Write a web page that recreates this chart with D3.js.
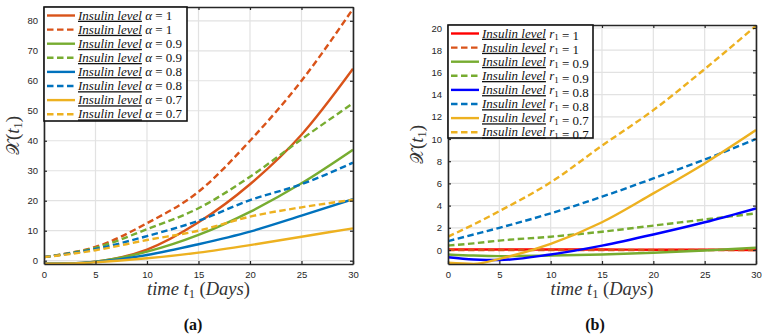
<!DOCTYPE html>
<meta charset="utf-8">
<style>
body { margin: 0; background: #fff; }
.tick text { font-family: "Liberation Sans", Arial, sans-serif; font-size: 9.5px; fill: #262626; }
.grid line { stroke: #e2e2e2; stroke-width: 1.2; }
</style>
<svg width="770" height="335"></svg>
<script src="https://d3js.org/d3.v7.min.js"></script>
<script>

var days = [0, 2.5, 5, 10, 15, 20, 25, 30];
var xTicks = [0, 5, 10, 15, 20, 25, 30];

// panel (a): alpha levels, solid / dashed pairs
var alphaLabels = ["1", "1", "0.9", "0.9", "0.8", "0.8", "0.7", "0.7"];
var a_orangeSolid  = [-1, -0.9, -0.3, 3.7, 12.8, 25.5, 42, 64];
var a_orangeDash   = [1.2, 2.6, 4.6, 12.5, 23, 40, 60, 84];
var a_greenSolid   = [-1, -0.9, -0.3, 3.0, 8.6, 16.3, 25.8, 37];
var a_greenDash    = [1.2, 2.5, 4.3, 10.5, 17.5, 28, 40.5, 52.5];
var a_blueSolid    = [-1, -0.9, -0.4, 1.9, 5.5, 9.7, 15, 20.5];
var a_blueDash     = [1.2, 2.4, 3.9, 8.2, 13.3, 20.2, 25.5, 32.7];
var a_yellowSolid  = [-1, -0.9, -0.5, 0.8, 2.7, 5.2, 8, 10.8];
var a_yellowDash   = [1.2, 2.2, 3.5, 6.9, 10, 14.7, 17.8, 20.3];
var aTicks = [0, 10, 20, 30, 40, 50, 60, 70, 80];

// panel (b): r1 levels
var rLabels = ["1", "1", "0.9", "0.9", "0.8", "0.8", "0.7", "0.7"];
var b_redSolid     = [0.05, 0.05, 0.05, 0.05, 0.04, 0.03, 0.02, 0.0];
var b_orangeDash   = [0, 0, 0, 0, 0, 0, 0, 0];
var b_greenSolid   = [-0.4, -0.5, -0.55, -0.5, -0.4, -0.25, -0.05, 0.2];
var b_greenDash    = [0.4, 0.6, 0.85, 1.2, 1.65, 2.2, 2.75, 3.3];
var b_blueSolid    = [-0.65, -0.85, -0.9, -0.4, 0.4, 1.4, 2.5, 3.75];
var b_blueDash     = [0.8, 1.4, 2.0, 3.3, 4.8, 6.45, 8.15, 10.0];
var b_yellowSolid  = [-1.15, -1.25, -0.8, 0.55, 2.5, 5.1, 7.8, 10.8];
var b_yellowDash   = [1.2, 2.3, 3.5, 6.1, 9.4, 12.6, 16.3, 20.2];
var bTicks = [0, 2, 4, 6, 8, 10, 12, 14, 16, 18, 20];

var serif = "'DejaVu Serif', 'Liberation Serif', serif";
var times = "'Liberation Serif', serif";
var svg = d3.select("svg");

function drawPanel(p) {
  var x = d3.scaleLinear().domain([0, 30]).range([p.left, p.right]),
      y = d3.scaleLinear().domain(p.ydom).range([p.bottom, p.top]);

  var g = svg.append("g");

  // grid
  var grid = g.append("g").attr("class", "grid");
  grid.selectAll(".gx").data(xTicks).enter().append("line")
      .attr("x1", d => x(d)).attr("x2", d => x(d))
      .attr("y1", p.top).attr("y2", p.bottom);
  grid.selectAll(".gy").data(p.yticks).enter().append("line")
      .attr("x1", p.left).attr("x2", p.right)
      .attr("y1", d => y(d)).attr("y2", d => y(d));

  // lines
  var clipId = "clip" + p.name;
  svg.append("clipPath").attr("id", clipId).append("rect")
      .attr("x", p.left).attr("y", p.top)
      .attr("width", p.right - p.left).attr("height", p.bottom - p.top);

  var line = d3.line()
      .x((d, i) => x(days[i]))
      .y(d => y(d))
      .curve(d3.curveMonotoneX);

  g.append("g").attr("clip-path", "url(#" + clipId + ")")
    .selectAll("path").data(p.series).enter().append("path")
      .attr("d", d => line(d.values))
      .attr("fill", "none")
      .attr("stroke", d => d.color)
      .attr("stroke-width", 2.4)
      .attr("stroke-dasharray", d => d.dash ? "6.5,3.5" : null);

  // axes (box with mirrored ticks)
  var axCol = "#262626";
  g.append("g").attr("transform", "translate(0," + p.bottom + ")")
      .call(d3.axisBottom(x).tickValues(xTicks).tickSizeInner(-3).tickSizeOuter(0).tickPadding(7))
      .call(a => a.select(".domain").attr("stroke", axCol).attr("stroke-width", 1.6));
  g.append("g").attr("transform", "translate(0," + p.top + ")")
      .call(d3.axisTop(x).tickValues(xTicks).tickSizeInner(-3).tickSizeOuter(0).tickFormat(""))
      .call(a => a.select(".domain").attr("stroke", axCol).attr("stroke-width", 1.6));
  g.append("g").attr("transform", "translate(" + p.left + ",0)")
      .call(d3.axisLeft(y).tickValues(p.yticks).tickSizeInner(-3).tickSizeOuter(0).tickPadding(6))
      .call(a => a.select(".domain").attr("stroke", axCol).attr("stroke-width", 1.6));
  g.append("g").attr("transform", "translate(" + p.right + ",0)")
      .call(d3.axisRight(y).tickValues(p.yticks).tickSizeInner(-3).tickSizeOuter(0).tickFormat(""))
      .call(a => a.select(".domain").attr("stroke", axCol).attr("stroke-width", 1.6));
  g.selectAll(".tick line").attr("stroke", axCol).attr("stroke-width", 1.2);

  // axis labels
  var xl = g.append("text").attr("font-family", times)
      .attr("x", (p.left + p.right) / 2).attr("y", p.bottom + 31)
      .attr("text-anchor", "middle").attr("font-size", 18.5)
      .attr("fill", "#333");
  xl.append("tspan").attr("font-style", "italic").text("time t");
  xl.append("tspan").attr("font-size", 12.5).attr("dy", 3).text("1");
  xl.append("tspan").attr("dy", -3).text(" (");
  xl.append("tspan").attr("font-style", "italic").text("Days");
  xl.append("tspan").text(")");

  var yl = g.append("text").attr("font-family", serif)
      .attr("transform", "translate(" + p.ylabelX + "," + ((p.top + p.bottom) / 2) + ") rotate(-90)")
      .attr("text-anchor", "middle").attr("font-size", 17).attr("fill", "#333");
  yl.append("tspan").text("\u{1D4B3}");
  yl.append("tspan").attr("font-family", times).attr("font-size", 19).text("(");
  yl.append("tspan").attr("font-family", times).attr("font-size", 19).attr("font-style", "italic").text("t");
  yl.append("tspan").attr("font-family", times).attr("font-size", 12.5).attr("dy", 3).text("1");
  yl.append("tspan").attr("font-family", times).attr("font-size", 19).attr("dy", -3).text(")");

  // caption
  g.append("text").attr("font-family", times)
      .attr("x", p.captionX).attr("y", 330)
      .attr("text-anchor", "middle").attr("font-size", 16).attr("font-weight", "bold")
      .attr("fill", "#111").text(p.caption);

  // legend
  var lg = g.append("g");
  lg.append("rect")
      .attr("x", p.left).attr("y", p.top)
      .attr("width", p.legW).attr("height", p.legH)
      .attr("fill", "#fff").attr("stroke", "#111").attr("stroke-width", 1.6);
  var rows = lg.selectAll(".row").data(p.series).enter().append("g")
      .attr("transform", (d, i) => "translate(" + p.left + "," + (p.top + 8.5 + i * 14.1) + ")");
  rows.append("line")
      .attr("x1", 3).attr("x2", 31).attr("y1", 0).attr("y2", 0)
      .attr("stroke", d => d.color).attr("stroke-width", 2.4)
      .attr("stroke-dasharray", d => d.dash ? "6.5,3.5" : null);
  var t = rows.append("text").attr("font-family", times)
      .attr("x", 34).attr("y", 4.2).attr("font-size", 13).attr("fill", "#111");
  t.append("tspan").attr("font-style", "italic")
      .attr("text-decoration", "underline").text("Insulin level");
  if (p.sym === "alpha") {
    t.append("tspan").attr("font-style", "italic").text(" \u03B1");
  } else {
    t.append("tspan").attr("font-style", "italic").text(" r");
    t.append("tspan").attr("font-size", 9).attr("dy", 2.5).text("1");
    t.append("tspan").attr("dy", -2.5).text("");
  }
  t.append("tspan").text((d, i) => " = " + p.labels[i]);
}

drawPanel({
  name: "a", left: 44, right: 353, top: 7, bottom: 264,
  ydom: [-1.1, 84.6], yticks: aTicks, ylabelX: 19,
  caption: "(a)", captionX: 193, legW: 143, legH: 114,
  sym: "alpha", labels: alphaLabels,
  series: [
    {values: a_orangeSolid, color: "#D95319", dash: false},
    {values: a_orangeDash,  color: "#D95319", dash: true},
    {values: a_greenSolid,  color: "#77AC30", dash: false},
    {values: a_greenDash,   color: "#77AC30", dash: true},
    {values: a_blueSolid,   color: "#0072BD", dash: false},
    {values: a_blueDash,    color: "#0072BD", dash: true},
    {values: a_yellowSolid, color: "#EDB120", dash: false},
    {values: a_yellowDash,  color: "#EDB120", dash: true}
  ]
});

drawPanel({
  name: "b", left: 448, right: 756, top: 25, bottom: 264,
  ydom: [-1.26, 20.27], yticks: bTicks, ylabelX: 423,
  caption: "(b)", captionX: 595, legW: 145, legH: 113,
  sym: "r", labels: rLabels,
  series: [
    {values: b_redSolid,    color: "#FF0000", dash: false},
    {values: b_orangeDash,  color: "#D95319", dash: true},
    {values: b_greenSolid,  color: "#77AC30", dash: false},
    {values: b_greenDash,   color: "#77AC30", dash: true},
    {values: b_blueSolid,   color: "#0000FF", dash: false},
    {values: b_blueDash,    color: "#0072BD", dash: true},
    {values: b_yellowSolid, color: "#EDB120", dash: false},
    {values: b_yellowDash,  color: "#EDB120", dash: true}
  ]
});

</script>
